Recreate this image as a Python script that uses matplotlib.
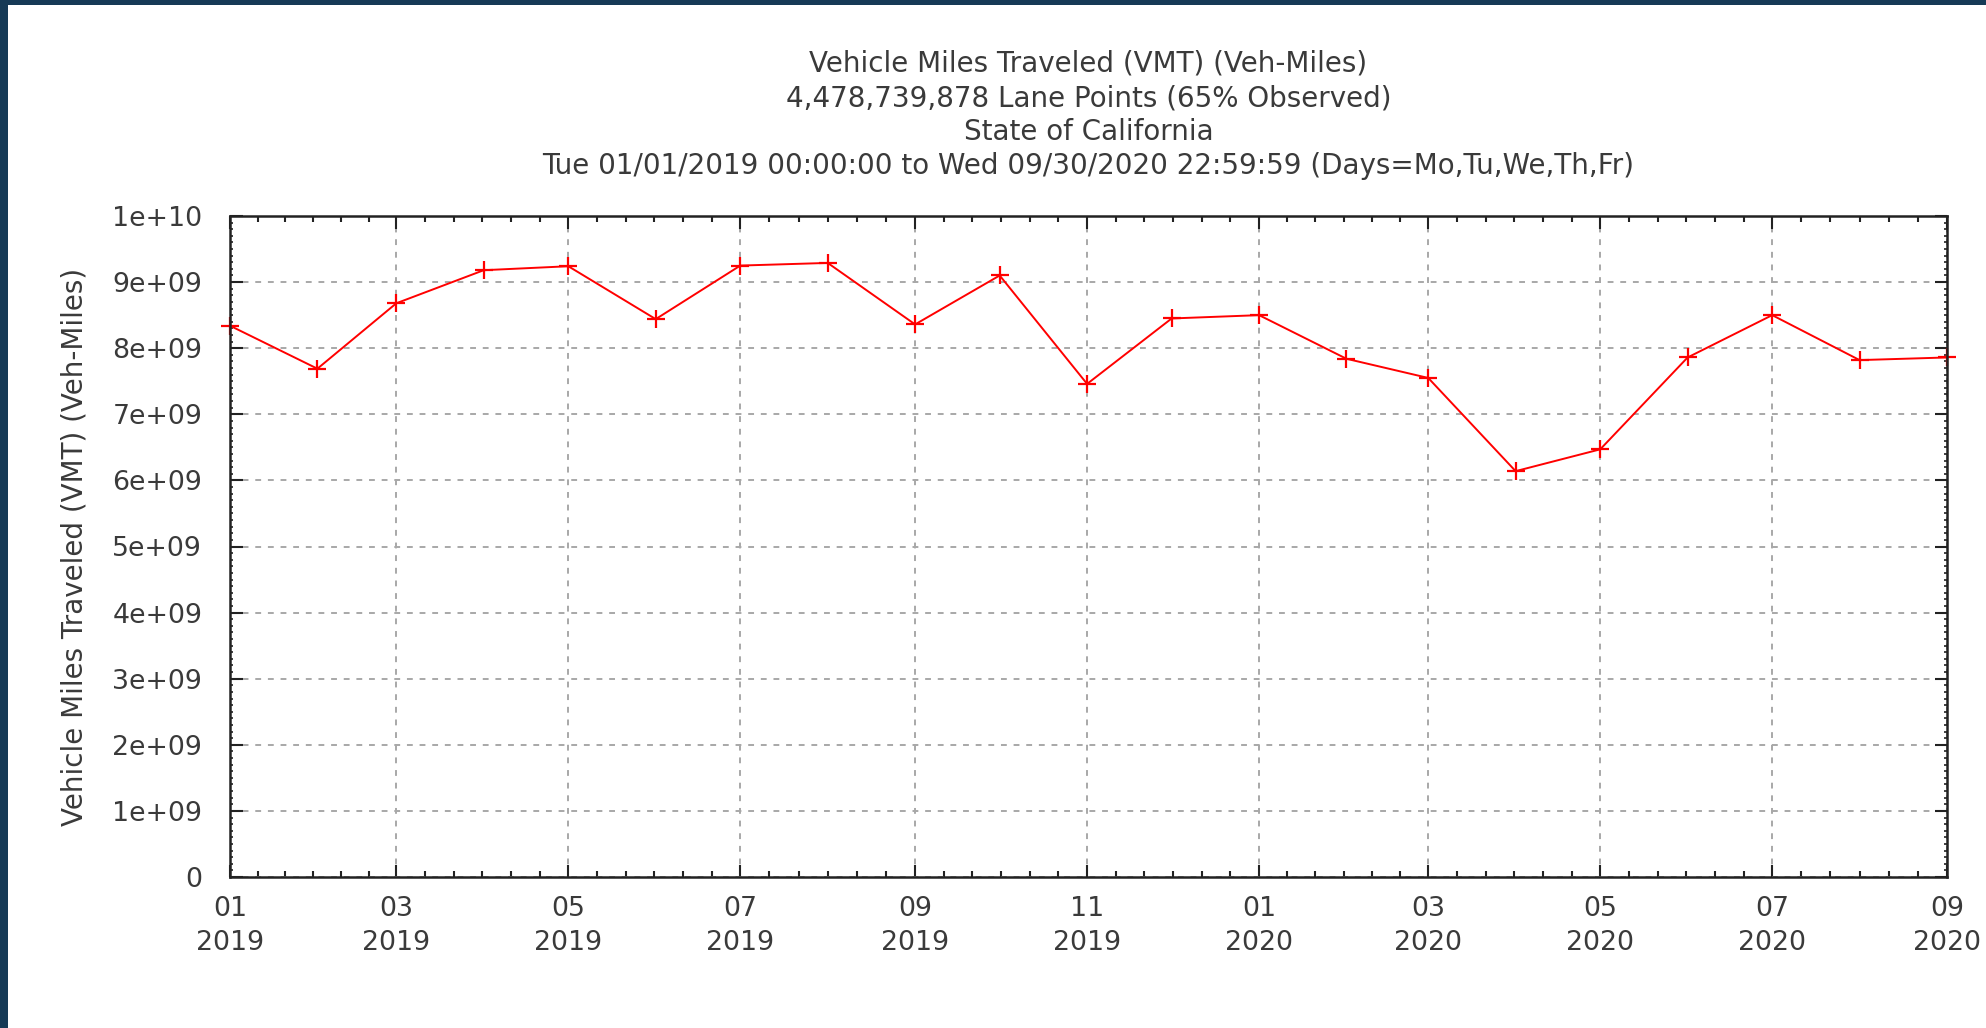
import datetime as dt
import numpy as np
import matplotlib
matplotlib.use("Agg")
import matplotlib.pyplot as plt
import matplotlib.dates as mdates
from matplotlib.patches import Rectangle
from matplotlib.ticker import MultipleLocator

plt.rcParams['font.family'] = ['DejaVu Sans']

# ---- data ----
months = ["2019-01", "2019-02", "2019-03", "2019-04", "2019-05", "2019-06",
          "2019-07", "2019-08", "2019-09", "2019-10", "2019-11", "2019-12",
          "2020-01", "2020-02", "2020-03", "2020-04", "2020-05", "2020-06",
          "2020-07", "2020-08", "2020-09"]
vmt = [8.34e9, 7.69e9, 8.68e9, 9.18e9, 9.24e9, 8.44e9,
       9.25e9, 9.29e9, 8.36e9, 9.10e9, 7.46e9, 8.45e9,
       8.50e9, 7.84e9, 7.55e9, 6.14e9, 6.47e9, 7.86e9,
       8.50e9, 7.82e9, 7.86e9]
title_lines = ["Vehicle Miles Traveled (VMT) (Veh-Miles)",
               "4,478,739,878 Lane Points (65% Observed)",
               "State of California",
               "Tue 01/01/2019 00:00:00 to Wed 09/30/2020 22:59:59 (Days=Mo,Tu,We,Th,Fr)"]
ylabel = "Vehicle Miles Traveled (VMT) (Veh-Miles)"

dates = [dt.datetime.strptime(m, "%Y-%m") for m in months]

TXT = '#3a3a3a'
FS = 19.3
FT = 20
W, H = 1986, 1028
fig = plt.figure(figsize=(W / 100, H / 100), dpi=100)
fig.patch.set_facecolor('white')

# dark frame (top and left)
border = '#163a56'
fig.patches.append(Rectangle((0, 1 - 5 / H), 1, 5 / H, transform=fig.transFigure,
                             facecolor=border, edgecolor='none', zorder=10))
fig.patches.append(Rectangle((0, 0), 8 / W, 1, transform=fig.transFigure,
                             facecolor=border, edgecolor='none', zorder=10))

L, R, T, B = 230, 1947, 216, 877
ax = fig.add_axes([L / W, 1 - B / H, (R - L) / W, (B - T) / H])

ax.plot(dates, vmt, color='#ff0000', lw=1.4, marker='+', ms=13, mew=1.6,
        clip_on=False, zorder=3)

ax.set_xlim(dates[0], dates[-1])
ax.set_ylim(0, 1e10)

# y ticks
ax.yaxis.set_minor_locator(MultipleLocator(1e8))
ylabels = ['0'] + ['%de+09' % i for i in range(1, 10)] + ['1e+10']
ax.set_yticks(np.arange(0, 1.01e10, 1e9))
ax.set_yticklabels(ylabels)

# x ticks
ax.xaxis.set_major_locator(mdates.MonthLocator(bymonth=[1, 3, 5, 7, 9, 11]))
ax.xaxis.set_major_formatter(mdates.DateFormatter('%m\n%Y'))
majors = ax.get_xticks()
minors = []
for a, b in zip(majors[:-1], majors[1:]):
    minors.extend(np.linspace(a, b, 7)[1:-1])
ax.set_xticks(minors, minor=True)

ax.tick_params(axis='both', which='both', direction='in', top=True, right=True,
               colors='#222222', labelcolor=TXT, labelsize=FS)
ax.tick_params(axis='both', which='major', length=9, width=1.5)
ax.tick_params(axis='x', which='minor', length=4.5, width=1.5)
ax.tick_params(axis='y', which='minor', length=2.2, width=1.2)
ax.tick_params(axis='x', which='major', pad=14)
ax.tick_params(axis='y', which='major', pad=20)
fig.canvas.draw()
for lab in ax.get_xticklabels():
    lab.set_linespacing(1.4)

for s in ax.spines.values():
    s.set_linewidth(1.8)
    s.set_color('#222222')
    s.set_zorder(4)

ax.grid(True, which='major', color='#a8a8a8', linestyle=(0, (3, 3.5)), lw=1.4)
ax.set_axisbelow(True)

ax.set_ylabel(ylabel, fontsize=FT, color=TXT, labelpad=17)
ax.set_title("\n".join(title_lines), fontsize=FT, color=TXT, linespacing=1.28, pad=30)

fig.savefig('out.png', dpi=100, facecolor='white')
